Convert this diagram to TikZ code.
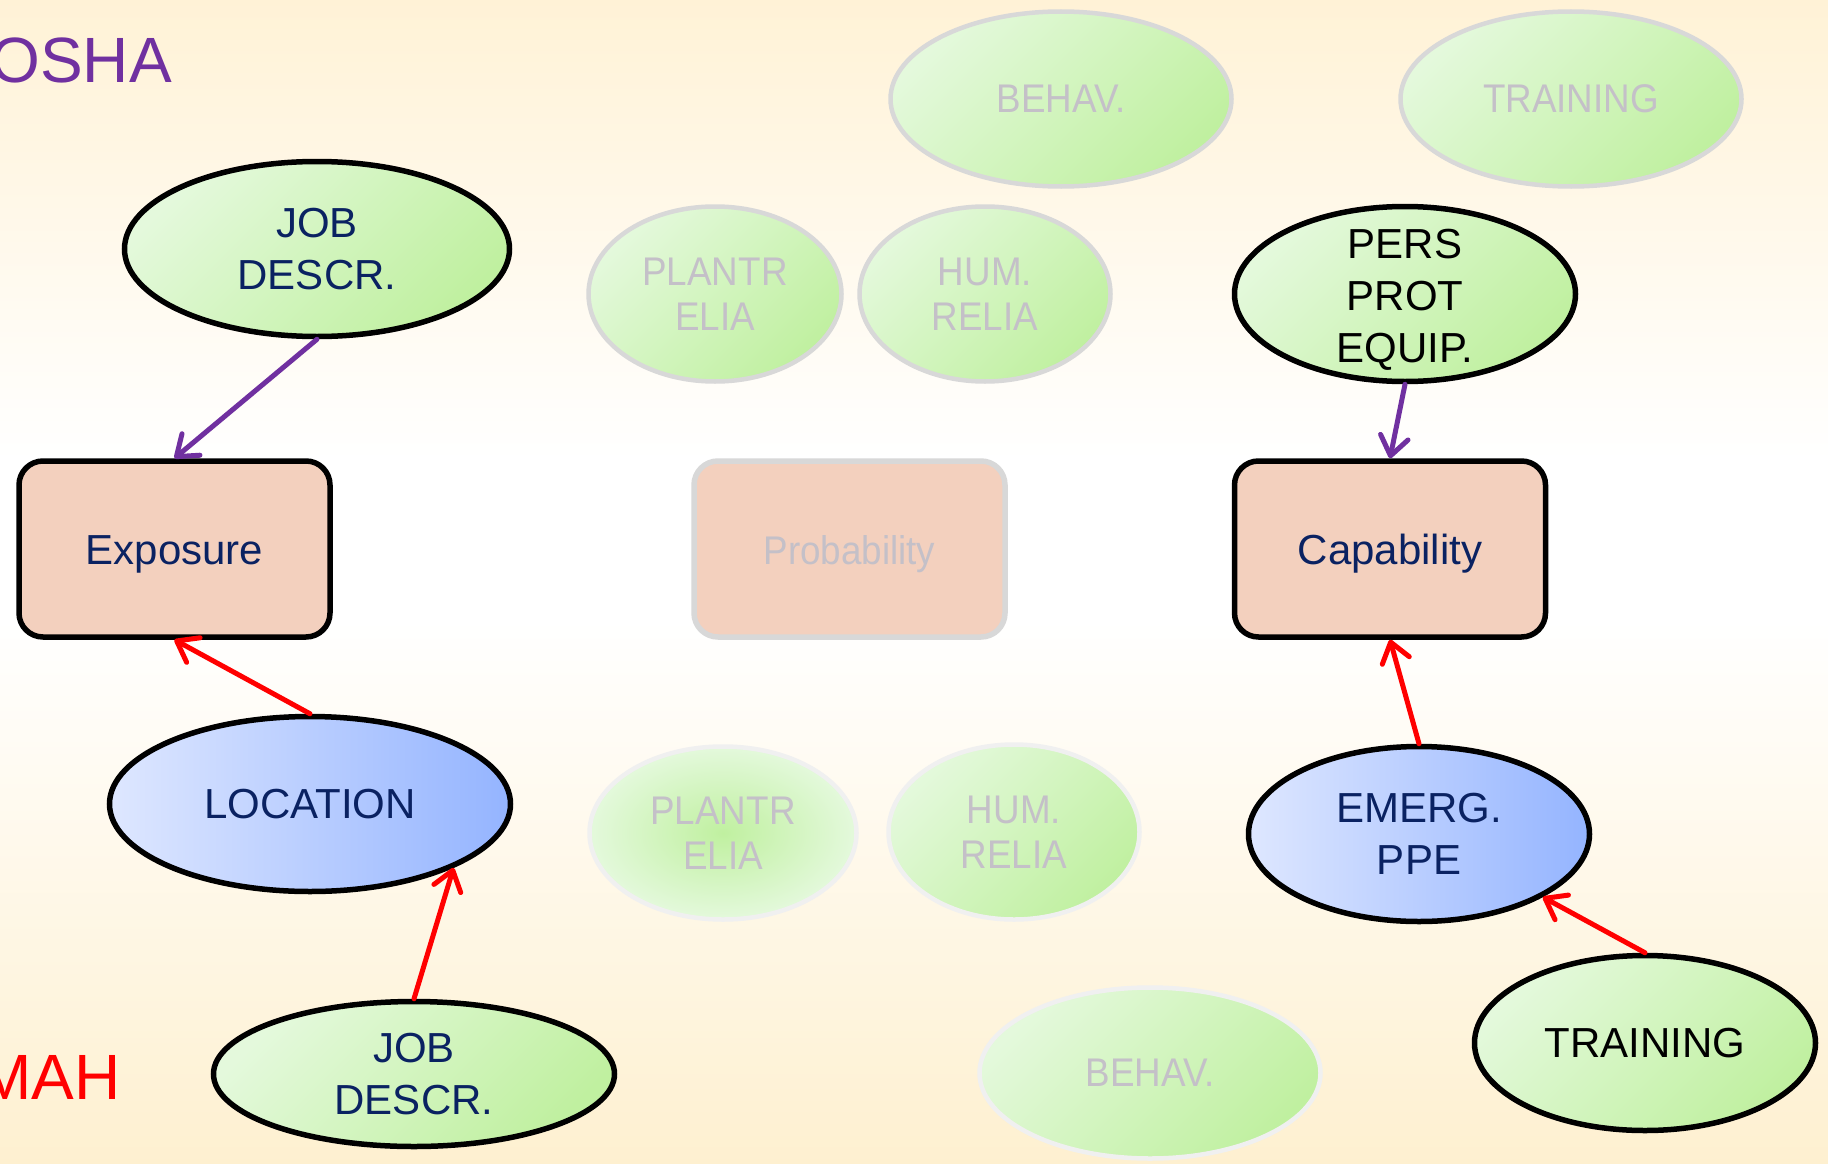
\documentclass[tikz,border=0pt]{standalone}
\usepackage{fontspec}
\setmainfont{Liberation Sans}
\newfontfamily\narrowsans{Liberation Sans}[FakeStretch=0.92]
\usetikzlibrary{shapes.geometric,arrows.meta}

\definecolor{navy}{RGB}{10,34,98}
\definecolor{oshapurple}{RGB}{112,48,160}
\definecolor{gLight}{RGB}{228,249,220}
\definecolor{gDark}{RGB}{192,240,160}
\definecolor{bLight}{RGB}{222,231,255}
\definecolor{bDark}{RGB}{148,180,255}
\definecolor{salmon}{RGB}{243,208,190}
\definecolor{fadeText}{RGB}{196,192,200}
\definecolor{fadeLine}{RGB}{216,216,216}
\definecolor{fadeLineB}{RGB}{240,240,240}
\definecolor{cream}{RGB}{255,242,214}
\definecolor{creamB}{RGB}{254,240,208}

\tikzset{
  ell/.style={ellipse, inner sep=0pt, line width=5.5pt, draw=black},
  greenfill/.style={top color=gLight, bottom color=gDark, shading angle=45},
  bluefill/.style={left color=bLight, right color=bDark},
  faded/.style={ellipse, inner sep=0pt, line width=4.5pt, draw=fadeLine},
  fadedlow/.style={ellipse, inner sep=0pt, line width=4.5pt, draw=fadeLineB},
  factor/.style={rectangle, rounded corners=24pt, fill=salmon, line width=5.5pt,
    minimum width=311pt, minimum height=176pt, inner sep=0pt,
    text height=30pt, text depth=0pt},
  txt/.style={font=\fontsize{42}{52}\selectfont, align=center, text=navy, inner sep=0pt},
  fadetxt/.style={font=\narrowsans\fontsize{40}{45}\selectfont, align=center, text=fadeText, inner sep=0pt},
  conn/.style={line width=5pt, line cap=round,
    -{Straight Barb[length=19pt,width=28pt,line cap=round,line join=round]}},
  title/.style={font=\fontsize{64}{64}\selectfont, inner sep=0pt, anchor=base east},
}

\begin{document}
\begin{tikzpicture}[x=1pt, y=-1pt]
  \useasboundingbox (0,0) rectangle (1828,1164);
  \clip (0,0) rectangle (1828,1164);

  % background wash: cream at top and bottom, white in the middle
  \shade[top color=cream, bottom color=white] (0,0) rectangle (1828,460);
  \fill[white] (0,459) rectangle (1828,621);
  \shade[top color=white, bottom color=creamB] (0,620) rectangle (1828,1164);

  % headings
  \node[title, text=oshapurple] (osha) at (172,82) {OSHA};
  \node[title, text=red] (mah) at (121,1099) {MAH};

  % faded (inactive) factors
  \node[faded, greenfill, minimum width=341pt, minimum height=175pt] (behA) at (1061,99) {};
  \node[fadetxt] (behA-t) at (behA) {BEHAV.};
  \node[faded, greenfill, minimum width=341pt, minimum height=175pt] (trainA) at (1571,99) {};
  \node[fadetxt] (trainA-t) at (trainA) {TRAINING};
  \node[faded, greenfill, minimum width=253pt, minimum height=175pt] (plantA) at (715,294) {};
  \node[fadetxt] (plantA-t) at (plantA) {PLANTR\\ELIA};
  \node[faded, greenfill, minimum width=251pt, minimum height=175pt] (humA) at (985,294) {};
  \node[fadetxt] (humA-t) at (humA) {HUM.\\RELIA};

  \node[fadedlow, inner color=gDark, outer color=gLight, minimum width=267pt, minimum height=173pt] (plantB) at (723,833) {};
  \node[fadetxt] (plantB-t) at (plantB) {PLANTR\\ELIA};
  \node[fadedlow, greenfill, minimum width=251pt, minimum height=175pt] (humB) at (1014,832) {};
  \node[fadetxt] (humB-t) at (humB) {HUM.\\RELIA};
  \node[fadedlow, greenfill, minimum width=341pt, minimum height=171pt] (behB) at (1150,1073) {};
  \node[fadetxt] (behB-t) at (behB) {BEHAV.};

  % central factors
  \node[factor, draw=black, txt] (expo) at (174.5,549) {Exposure};
  \node[factor, draw=fadeLine, txt, font=\narrowsans\fontsize{40}{45}\selectfont, text=fadeText] (prob) at (849.5,549) {Probability};
  \node[factor, draw=black, txt] (cap) at (1390,549) {Capability};

  % active influences
  \node[ell, greenfill, minimum width=385pt, minimum height=175pt] (jobA) at (317,249) {};
  \node[txt] (jobA-t) at (jobA) {JOB\\DESCR.};
  \node[ell, greenfill, minimum width=341pt, minimum height=175pt] (ppe) at (1405,294) {};
  \node[txt, text=black] (ppe-t) at ([yshift=-6pt]ppe.center) {PERS\\PROT\\EQUIP.};
  \node[ell, bluefill, minimum width=401pt, minimum height=175pt] (loc) at (310,804) {};
  \node[txt] (loc-t) at (loc) {LOCATION};
  \node[ell, bluefill, minimum width=341pt, minimum height=175pt] (emerg) at (1419,834) {};
  \node[txt] (emerg-t) at (emerg) {EMERG.\\PPE};
  \node[ell, greenfill, minimum width=401pt, minimum height=145pt] (jobB) at (414,1074) {};
  \node[txt] (jobB-t) at (jobB) {JOB\\DESCR.};
  \node[ell, greenfill, minimum width=341pt, minimum height=175pt] (trainB) at (1645,1043) {};
  \node[txt, text=black] (trainB-t) at (trainB) {TRAINING};

  % connectors
  \draw[conn, oshapurple] (jobA.south) -- (expo.north);
  \draw[conn, oshapurple] (ppe.south) -- (cap.north);
  \draw[conn, red] (loc.north) -- (expo.south);
  \draw[conn, red] (jobB.north) -- (loc.-24);
  \draw[conn, red] (emerg.north) -- (cap.south);
  \draw[conn, red] (trainB.north) -- (emerg.-27);
\end{tikzpicture}
\end{document}
